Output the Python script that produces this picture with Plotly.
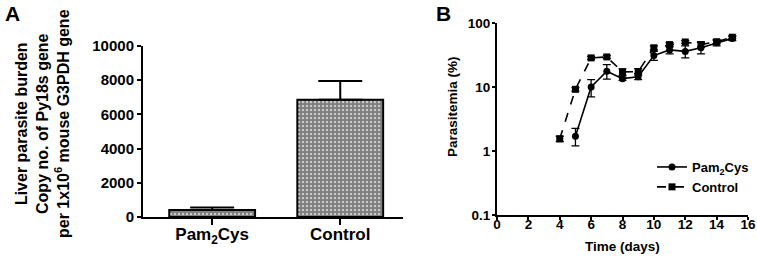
import plotly.graph_objects as go

# Panel A data
a_categories = ["Pam<sub>2</sub>Cys", "Control"]
a_values = [410, 6850]
a_errors = [140, 1100]
a_ticks = [0, 2000, 4000, 6000, 8000, 10000]
a_ticklabels = ["0", "2000", "4000", "6000", "8000", "10000"]

# Panel B data
days_pam = [5, 6, 7, 8, 9, 10, 11, 12, 13, 14, 15]
pam_values = [1.7, 10, 17.6, 13.5, 14.5, 31, 38, 36, 41, 49, 57.5]
pam_err_plus = [0.55, 3.0, 4.7, 0.8, 1.8, 5, 6, 8, 9, 5, 4.5]
pam_err_minus = [0.5, 3.0, 4.3, 0.8, 1.5, 5, 5, 7.5, 8, 5, 4.5]

days_ctrl = [4, 5, 6, 7, 8, 9, 10, 11, 12, 13, 14, 15]
ctrl_values = [1.55, 9.2, 28.5, 29.5, 17.2, 17.4, 41, 46, 50.5, 46, 51, 60]
ctrl_err = [0.15, 0.6, 1.5, 1.5, 2.0, 2.0, 3.0, 3.5, 2.5, 4.0, 3.5, 3.0]

b_xticks = [0, 2, 4, 6, 8, 10, 12, 14, 16]
b_yticks = [0.1, 1, 10, 100]
b_yticklabels = ["0.1", "1", "10", "100"]

FONT = "Liberation Sans, Arial, sans-serif"
W, H = 757, 257

fig = go.Figure()

fig.add_trace(go.Bar(
    x=[0, 1], y=a_values, width=0.67,
    marker=dict(color="white", line=dict(color="black", width=2),
                pattern=dict(shape=".", fgcolor="black", bgcolor="white",
                             size=4, solidity=0.8, fillmode="overlay")),
    error_y=dict(type="data", symmetric=False, array=a_errors,
                 arrayminus=[0, 0], color="black", thickness=2, width=22),
    xaxis="x", yaxis="y", showlegend=False,
))

fig.add_trace(go.Scatter(
    x=days_pam, y=pam_values, mode="lines+markers", name="Pam<sub>2</sub>Cys",
    line=dict(color="black", width=1.6),
    marker=dict(symbol="circle", size=7, color="black"),
    error_y=dict(type="data", symmetric=False, array=pam_err_plus,
                 arrayminus=pam_err_minus, color="black", thickness=1.3, width=4),
    xaxis="x2", yaxis="y2",
))
fig.add_trace(go.Scatter(
    x=days_ctrl, y=ctrl_values, mode="lines+markers", name="Control",
    line=dict(color="black", width=1.6, dash="dash"),
    marker=dict(symbol="square", size=7, color="black"),
    error_y=dict(type="data", array=ctrl_err, color="black", thickness=1.3, width=4),
    xaxis="x2", yaxis="y2",
))

axis_common = dict(showline=True, linecolor="black", linewidth=2, ticks="outside",
                   tickcolor="black", tickwidth=2, showgrid=False, zeroline=False,
                   automargin=False)

fig.update_layout(
    width=W, height=H,
    margin=dict(l=0, r=0, t=0, b=0, autoexpand=False),
    paper_bgcolor="white", plot_bgcolor="white",
    font=dict(family=FONT, color="black"),
    xaxis=dict(domain=[143/W, 403/W], range=[-0.54, 1.49],
               tickvals=[0, 1], ticktext=a_categories, ticklen=6, ticklabelstandoff=-5,
               tickfont=dict(size=17, weight="bold"), anchor="y", **axis_common),
    yaxis=dict(domain=[1-217/H, 1-46/H], range=[0, 10000],
               tickvals=a_ticks, ticktext=a_ticklabels, ticklen=4,
               tickfont=dict(size=15, weight="bold"), anchor="x", **axis_common),
    xaxis2=dict(domain=[497/W, 748/W], range=[0, 16], tickvals=b_xticks,
                ticklen=3, ticklabelstandoff=-7,
                tickfont=dict(size=13.5, weight="bold"), anchor="y2",
                **axis_common),
    yaxis2=dict(domain=[1-215/H, 1-23/H], type="log", range=[-1, 2],
                tickvals=b_yticks, ticktext=b_yticklabels, ticklen=3, ticklabelstandoff=-1,
                tickfont=dict(size=13.5, weight="bold"), anchor="x2",
                **axis_common),
    legend=dict(x=652/W, y=1-152/H, xanchor="left", yanchor="top",
                font=dict(size=13, weight="bold"), bgcolor="rgba(0,0,0,0)",
                itemwidth=30, tracegroupgap=0),
    annotations=[
        dict(text="<b>A</b>", x=3/W, y=1.0, xref="paper", yref="paper",
             xanchor="left", yanchor="top", showarrow=False, font=dict(size=21)),
        dict(text="<b>B</b>", x=434/W, y=1.0, xref="paper", yref="paper",
             xanchor="left", yanchor="top", showarrow=False, font=dict(size=21)),
        dict(text="<b>Liver parasite burden<br>Copy no. of Py18s gene<br>per 1x10<sup>6</sup> mouse G3PDH gene</b>",
             x=42/W, y=1-124/H, xref="paper", yref="paper", xanchor="center",
             yanchor="middle", textangle=-90, showarrow=False, font=dict(size=16)),
        dict(text="<b>Time (days)</b>", x=622/W, y=1-246/H, xref="paper", yref="paper",
             xanchor="center", yanchor="middle", showarrow=False, font=dict(size=13.5)),
        dict(text="<b>Parasitemia (%)</b>", x=452/W, y=1-107/H, xref="paper", yref="paper",
             xanchor="center", yanchor="middle", textangle=-90, showarrow=False,
             font=dict(size=13.5)),
    ],
)

fig.write_html("out.html", config={"displayModeBar": False},
               post_script="document.body.style.margin='0';document.body.style.overflow='hidden';")
